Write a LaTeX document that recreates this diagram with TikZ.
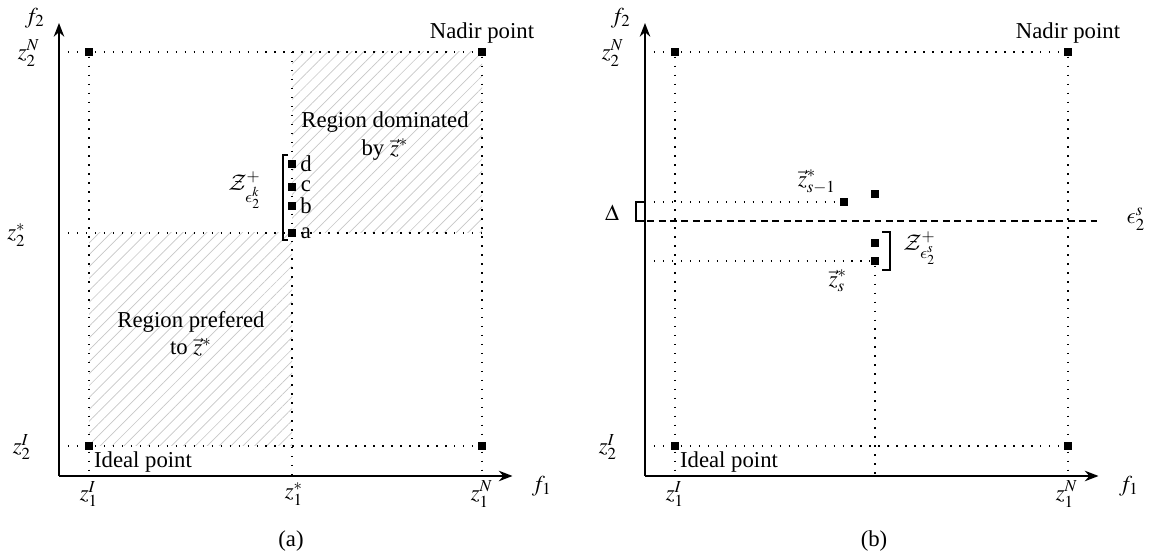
\documentclass[tikz,border=0pt]{standalone}
\usepackage{mathptmx}
\usepackage{fontspec}
\setmainfont{Liberation Serif}
\DeclareMathAlphabet{\mathcal}{OMS}{cmsy}{m}{n}
\DeclareSymbolFont{cmletters}{OML}{cmm}{m}{it}
\DeclareMathSymbol{\epsilon}{\mathord}{cmletters}{"0F}
\usetikzlibrary{arrows.meta,positioning,patterns.meta}
\tikzset{
  obj-axis/.style={line width=0.9pt, -{Stealth[length=6pt,width=4.6pt]}},
  guide-line/.style={line width=0.65pt, dash pattern=on 0.65pt off 3.3pt},
  pareto-point/.style={rectangle, fill=black, minimum size=3.7pt, inner sep=0pt},
  hatch-region/.style={pattern={Lines[angle=45,distance=3.7pt,line width=0.3pt]}, pattern color=black!22},
  set-brace/.style={line width=0.8pt},
  eps-bound/.style={line width=0.9pt, dash pattern=on 3pt off 2pt},
  tick-label/.style={inner sep=0pt}
}

\begin{document}
\begin{tikzpicture}[x=0.44pt, y=-0.44pt]
  \useasboundingbox (0,0) rectangle (1152,558);

  % ---------- (a) ----------
  \fill[hatch-region] (89,233) rectangle (292,446);
  \fill[hatch-region] (292,52) rectangle (482,233);

  \coordinate (originA) at (59,476);
  \coordinate (f1endA) at (512.5,476);
  \coordinate (f2endA) at (59,23);
  \coordinate (y2nA) at (59,52);
  \coordinate (y2sA) at (59,233);
  \coordinate (r2sA) at (482,233);
  \coordinate (y2iA) at (59,446);
  \coordinate (x1iA) at (89,476);
  \coordinate (x1sA) at (292,476);
  \coordinate (t1sA) at (292,52);
  \coordinate (x1nA) at (482,476);

  \node[pareto-point] (ulA) at (89,52) {};
  \node[pareto-point] (nadirA) at (482,52) {};
  \node[pareto-point] (idealA) at (89,446) {};
  \node[pareto-point] (lrA) at (482,446) {};

  \draw[guide-line] (y2nA) -- (nadirA);
  \draw[guide-line] (y2sA) -- (r2sA);
  \draw[guide-line] (y2iA) -- (lrA);
  \draw[guide-line] (ulA) -- (x1iA);
  \draw[guide-line] (t1sA) -- (x1sA);
  \draw[guide-line] (nadirA) -- (x1nA);

  \node[pareto-point] (pa) at (292,233) {};
  \node[pareto-point] (pb) at (292,206) {};
  \node[pareto-point] (pc) at (292,187) {};
  \node[pareto-point] (pd) at (292,164) {};
  \node (la) at (306,233) {a};
  \node (lb) at (306,206) {b};
  \node (lc) at (306,186) {c};
  \node (ld) at (306,164) {d};
  \draw[set-brace] (288,155) -- (283,155) -- (283,240) -- (288,240);
  \node (zsetA) at (245,190) {$\mathcal{Z}^+_{\epsilon_2^k}$};

  \draw[obj-axis] (originA) -- (f1endA);
  \draw[obj-axis] (originA) -- (f2endA);

  \node (f1A) at (542,486) {$f_1$};
  \node (f2A) at (35,18) {$f_2$};
  \node[tick-label] (z2nA) at (29,53) {$z_2^N$};
  \node[tick-label] (z2sA) at (16.5,235) {$z_2^*$};
  \node[tick-label] (z2iA) at (22,447) {$z_2^I$};
  \node[tick-label] (z1iA) at (89,494) {$z_1^I$};
  \node[tick-label] (z1sA) at (294,494) {$z_1^*$};
  \node[tick-label] (z1nA) at (482,494) {$z_1^N$};
  \node (nadirtxtA) at (482,33) {Nadir point};
  \node (idealtxtA) at (143,462) {Ideal point};
  \node[align=center] (domA) at (385,136) {Region dominated\\by $\vec{z}^*$};
  \node[align=center] (prefA) at (191,334) {Region prefered\\to $\vec{z}^*$};
  \node (capA) at (291,541) {(a)};

  % ---------- (b) ----------
  \begin{scope}[shift={(586,0)}]
  \coordinate (originB) at (59,476);
  \coordinate (f1endB) at (512.5,476);
  \coordinate (f2endB) at (59,23);
  \coordinate (y2nB) at (59,52);
  \coordinate (y2iB) at (59,446);
  \coordinate (x1iB) at (89,476);
  \coordinate (x1nB) at (482,476);
  \coordinate (x1sB) at (289,476);
  \coordinate (ysmB) at (59,202);
  \coordinate (ysB) at (59,261);
  \coordinate (epsL) at (50,221);
  \coordinate (epsR) at (515,221);

  \node[pareto-point] (ulB) at (89,52) {};
  \node[pareto-point] (nadirB) at (482,52) {};
  \node[pareto-point] (idealB) at (89,446) {};
  \node[pareto-point] (lrB) at (482,446) {};
  \node[pareto-point] (zprev) at (258,202) {};
  \node[pareto-point] (zup) at (289,194) {};
  \node[pareto-point] (zmid) at (289,243) {};
  \node[pareto-point] (zcur) at (289,261) {};

  \draw[guide-line] (y2nB) -- (nadirB);
  \draw[guide-line] (y2iB) -- (lrB);
  \draw[guide-line] (ulB) -- (x1iB);
  \draw[guide-line] (nadirB) -- (x1nB);
  \draw[guide-line] (ysmB) -- (zprev);
  \draw[guide-line] (ysB) -- (zcur);
  \draw[guide-line] (zcur) -- (x1sB);

  \draw[eps-bound] (epsL) -- (epsR);
  \draw[set-brace] (ysmB) -| (epsL) -- (59,221);
  \draw[set-brace] (296,232) -- (304,232) -- (304,270) -- (296,270);

  \draw[obj-axis] (originB) -- (f1endB);
  \draw[obj-axis] (originB) -- (f2endB);

  \node (f1B) at (543,486) {$f_1$};
  \node (f2B) at (35,18) {$f_2$};
  \node[tick-label] (z2nB) at (27,53) {$z_2^N$};
  \node[tick-label] (z2iB) at (22,447) {$z_2^I$};
  \node[tick-label] (z1iB) at (89,494) {$z_1^I$};
  \node[tick-label] (z1nB) at (481,494) {$z_1^N$};
  \node (deltaB) at (26,213) {$\Delta$};
  \node (epsB) at (550,219) {$\epsilon_2^s$};
  \node (zprevtxt) at (231,182) {$\vec{z}^*_{s-1}$};
  \node (zcurtxt) at (252,281) {$\vec{z}^*_{s}$};
  \node (zsetB) at (334,248) {$\mathcal{Z}^+_{\epsilon_2^s}$};
  \node (nadirtxtB) at (482,33) {Nadir point};
  \node (idealtxtB) at (143,462) {Ideal point};
  \node (capB) at (288,541) {(b)};
  \end{scope}
\end{tikzpicture}
\end{document}
